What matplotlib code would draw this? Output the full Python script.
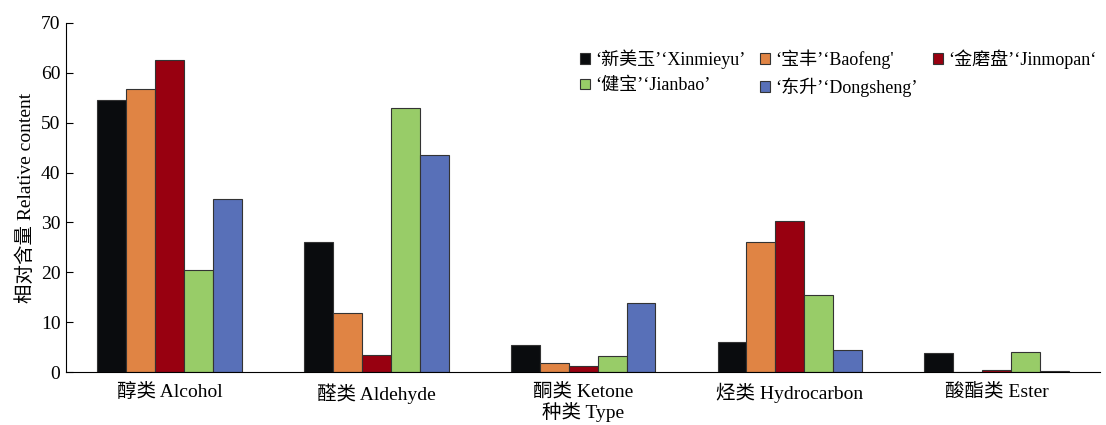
import numpy as np
import matplotlib
matplotlib.use('Agg')
import matplotlib.pyplot as plt

plt.rcParams['font.family'] = ['Liberation Serif', 'Noto Sans CJK SC']

categories = ['醇类 Alcohol', '醛类 Aldehyde', '酮类 Ketone', '烃类 Hydrocarbon', '酸酯类 Ester']
varieties = ['‘新美玉’‘Xinmieyu’', '‘宝丰’‘Baofeng\'', '‘金磨盘’‘Jinmopan‘',
             '‘健宝’‘Jianbao’', '‘东升’‘Dongsheng’']
xinmieyu = [54.5, 26.0, 5.5, 6.0, 3.8]
baofeng = [56.8, 11.8, 1.8, 26.0, 0.0]
jinmopan = [62.5, 3.5, 1.2, 30.3, 0.4]
jianbao = [20.5, 53.0, 3.2, 15.5, 4.0]
dongsheng = [34.6, 43.5, 13.9, 4.5, 0.3]
colors = ['#0a0c0e', '#e08444', '#980010', '#98cc68', '#5870b8']

fig = plt.figure(figsize=(11.06, 4.25), dpi=100)
ax = fig.add_axes([0.0597, 0.1247, 0.935, 0.8213])

x = np.arange(len(categories))
width = 0.14
series = [xinmieyu, baofeng, jinmopan, jianbao, dongsheng]
bars = []
for i, (vals, c) in enumerate(zip(series, colors)):
    b = ax.bar(x + (i - 2) * width, vals, width, color=c, edgecolor='#333333',
               linewidth=0.8, label=varieties[i])
    bars.append(b)

ax.set_xlim(-0.5, 4.5)
ax.set_ylim(0, 70)
ax.set_yticks(np.arange(0, 71, 10))
ax.set_xticks(x)
ax.set_xticklabels(categories, fontsize=14)
ax.tick_params(axis='x', length=0, pad=8)
ax.tick_params(axis='y', direction='in', length=5, labelsize=14, pad=4)
ax.spines['top'].set_visible(False)
ax.spines['right'].set_visible(False)
ax.set_xlabel('种类 Type', fontsize=14, labelpad=-1)
ax.set_ylabel('相对含量 Relative content', fontsize=14, labelpad=4)

# legend fills column-wise, so reorder to get rows as drawn
order = [0, 3, 1, 4, 2]
ax.legend([bars[k] for k in order], [varieties[k] for k in order], ncol=3,
          loc='upper right', bbox_to_anchor=(1.012, 0.97), frameon=False,
          fontsize=13, handlelength=0.55, handleheight=0.55, handletextpad=0.3,
          columnspacing=0.8, labelspacing=0.45)

fig.savefig('out.png', dpi=100)
